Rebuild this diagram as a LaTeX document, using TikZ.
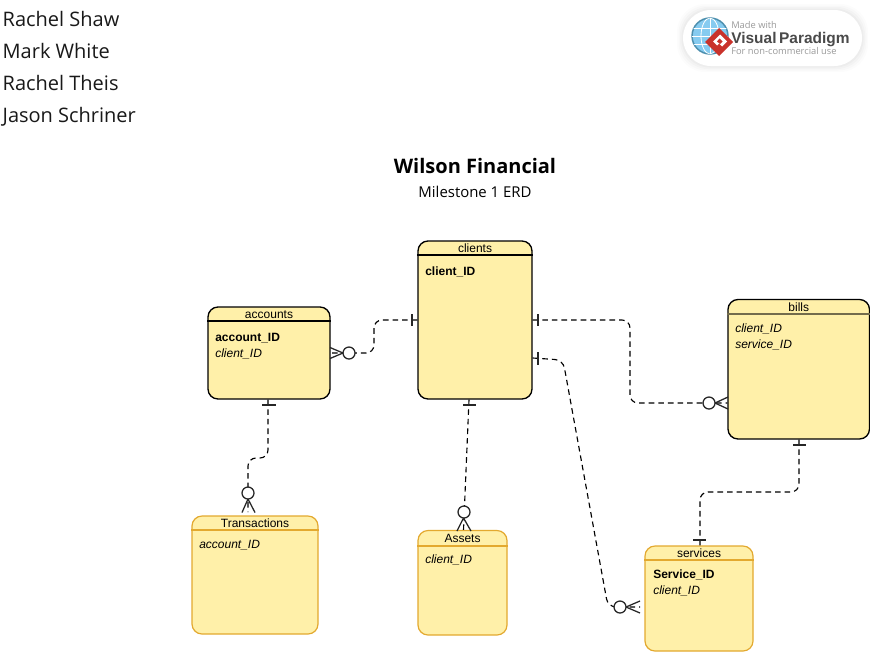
\documentclass[tikz,border=0pt]{standalone}
\usepackage{fontspec}
\setmainfont{Open Sans}
\newfontfamily\tablefont{Liberation Sans}
\definecolor{entfill}{HTML}{FFF0A9}
\definecolor{entorange}{HTML}{E3A92F}
\definecolor{logogray}{HTML}{9A9A9A}
\definecolor{logodark}{HTML}{4A4A4A}
\definecolor{logored}{HTML}{C9322B}
\definecolor{logoblue}{HTML}{86CBF0}
\definecolor{logoring}{HTML}{4D8FAE}
\tikzset{
  entbox/.style={draw,fill=entfill,rounded corners=7.5pt,inner sep=0pt,line width=1pt},
  blackbox/.style={entbox,draw=black},
  orangebox/.style={entbox,draw=entorange,line width=.9pt},
  enttitle/.style={font=\tablefont\fontsize{9}{10}\selectfont,inner sep=0pt,text=black},
  attrkey/.style={font=\tablefont\fontsize{9}{10}\selectfont\bfseries,inner sep=0pt,anchor=base west},
  attrfk/.style={font=\tablefont\fontsize{9}{10}\selectfont\itshape,inner sep=0pt,anchor=base west},
  person/.style={font=\fontsize{15}{18}\selectfont,inner sep=0pt,anchor=base west,text=black!90},
  conn/.style={line width=.85pt,dash pattern=on 4.2pt off 3pt,rounded corners=6pt},
  cardmark/.style={line width=.95pt,draw=black!85},
  cardring/.style={line width=.95pt,draw=black!85,fill=white},
  logotxt/.style={inner sep=0pt,anchor=base west},
}
\newcommand{\entity}[8]{%
  % name, x1, y1, x2, y2, style, title, header y
  \node[#6,minimum width=#4*.75pt-#2*.75pt,minimum height=#5*.75pt-#3*.75pt] (#1) at ({(#2+#4)/2},{(#3+#5)/2}) {};
  \node[enttitle] (#1title) at ({(#2+#4)/2},{(#3+#8)/2+.6}) {#7};
}
\begin{document}
\begin{tikzpicture}[x=.75pt,y=-.75pt]
\useasboundingbox (0,0) rectangle (870,651);
\fill[white] (0,0) rectangle (870,651);

% authors
\node[person] (n1) at (2.4,26) {Rachel Shaw};
\node[person] (n2) at (2.4,58) {Mark White};
\node[person] (n3) at (2.4,90) {Rachel Theis};
\node[person] (n4) at (2.4,122) {Jason Schriner};

% title
\node[inner sep=0pt,font=\fontsize{15}{18}\selectfont\bfseries] (title) at (475,166) {Wilson Financial};
\node[inner sep=0pt,font=\fontsize{11.2}{13}\selectfont] (subtitle) at (475,192) {Milestone 1 ERD};

% logo
\foreach \g/\o in {6/.012,4.5/.016,3/.02,1.5/.025}{
  \fill[black,opacity=\o,rounded corners=21pt] (683-\g,10-\g) rectangle (862+\g,66+\g);
}
\fill[white,rounded corners=21pt] (683,10) rectangle (862,66);
\fill[logoblue] (710,36) circle[radius=13.5pt];
\draw[logoring,line width=1.1pt] (710,36) circle[radius=13.5pt];
\begin{scope}
\clip (710,36) circle[radius=13.5pt];
\draw[white,line width=.6pt] (692,36) -- (728,36) (692,28) -- (728,28) (692,44) -- (728,44);
\draw[white,line width=.6pt] (710,18) -- (710,54);
\draw[white,line width=.6pt] (710,36) ellipse[x radius=9,y radius=18];
\end{scope}
\fill[logored] (719,28) -- (733,42) -- (719,56) -- (705,42) -- cycle;
\fill[white] (720,34.5) -- (727,41.5) -- (722,46.5) -- (719,43.5) -- (717,45.5) -- (713,41.5) -- cycle;
\fill[logored] (719.5,38.5) -- (722.5,41.5) -- (720,44) -- (717,41.5) -- cycle;
\node[logotxt,text=logogray,font=\fontsize{7}{8}\selectfont] (lg1) at (731,28) {Made with};
\node[logotxt,text=logodark,font=\tablefont\fontsize{11.6}{13}\selectfont\bfseries] (lg2) at (731,43) {Visual\,Paradigm};
\node[logotxt,text=logogray,font=\fontsize{7}{8}\selectfont] (lg3) at (731,54) {For non-commercial use};

% entities
\entity{clients}{418}{241}{532}{399}{blackbox}{clients}{255}
\draw[line width=.8pt] (clients.west |- 0,255) -- (clients.east |- 0,255);
\node[attrkey] (clientskey) at (425,275) {client\_ID};

\entity{accounts}{208}{307}{330}{399}{blackbox}{accounts}{321}
\draw[line width=.8pt] (accounts.west |- 0,321) -- (accounts.east |- 0,321);
\node[attrkey] (accountskey) at (215,341) {account\_ID};
\node[attrfk] (accountsfk) at (215,357) {client\_ID};

\entity{bills}{728}{299.5}{869.5}{439}{blackbox}{bills}{314}
\draw[line width=1pt,draw=black!55!entfill] (bills.west |- 0,314) -- (bills.east |- 0,314);
\node[attrfk] (billsfka) at (735,332) {client\_ID};
\node[attrfk] (billsfkb) at (735,348) {service\_ID};

\entity{transactions}{192}{516}{318}{634}{orangebox}{Transactions}{530}
\draw[line width=.8pt,entorange] (transactions.west |- 0,530) -- (transactions.east |- 0,530);
\node[attrfk] (transfk) at (199,548) {account\_ID};

\entity{assets}{418}{530.5}{507}{635}{orangebox}{Assets}{545}
\draw[line width=1.5pt,entorange] (assets.west |- 0,545.5) -- (assets.east |- 0,545.5);
\node[attrfk] (assetsfk) at (425,563) {client\_ID};

\entity{services}{645}{546}{753}{651}{orangebox}{services}{560}
\draw[line width=.8pt,entorange] (services.west |- 0,560) -- (services.east |- 0,560);
\node[attrkey] (serviceskey) at (653,578) {Service\_ID};
\node[attrfk] (servicesfk) at (653,594) {client\_ID};

% connectors
\draw[conn] (clients.west |- 0,320) -- (374,320) -- (374,353) -- (accounts.east |- 0,353);
\draw[conn] (accounts.south -| 268,0) -- (268,458) -- (248,458) -- (248,512);
\draw[conn] (clients.south -| 469,0) -- (assets.north -| 463.5,0);
\draw[conn] (clients.east |- 0,320) -- (630,320) -- (630,403) -- (bills.west |- 0,403);
\draw[conn] (clients.east |- 0,358) -- (563,360) -- (608,607) -- (640,607);
\draw[conn] (bills.south -| 799,0) -- (799,492) -- (700,492) -- (services.north -| 700,0);

% cardinality marks: one
\draw[cardmark] (412,314) -- (412,326);
\draw[cardmark] (262,405) -- (276,405);
\draw[cardmark] (463,405) -- (476,405);
\draw[cardmark] (538,314) -- (538,326);
\draw[cardmark] (538,352) -- (538,365);
\draw[cardmark] (793,445) -- (806,445);
\draw[cardmark] (693,540) -- (706,540);

% cardinality marks: zero or many
\draw[cardmark] (330,347.5) -- (343,353) -- (330,358.5);
\draw[cardring] (349,353) circle[radius=6];
\draw[cardmark] (242,512.5) -- (248,499) -- (255,512.5);
\draw[cardring] (248,493) circle[radius=6];
\draw[cardmark] (457,531) -- (463.5,518) -- (471,531);
\draw[cardring] (464,512) circle[radius=6];
\draw[cardmark] (728,397) -- (715,403) -- (728,409);
\draw[cardring] (709,403) circle[radius=6];
\draw[cardmark] (640,601) -- (626,607) -- (640,613);
\draw[cardring] (620,607) circle[radius=6];
\end{tikzpicture}
\end{document}
